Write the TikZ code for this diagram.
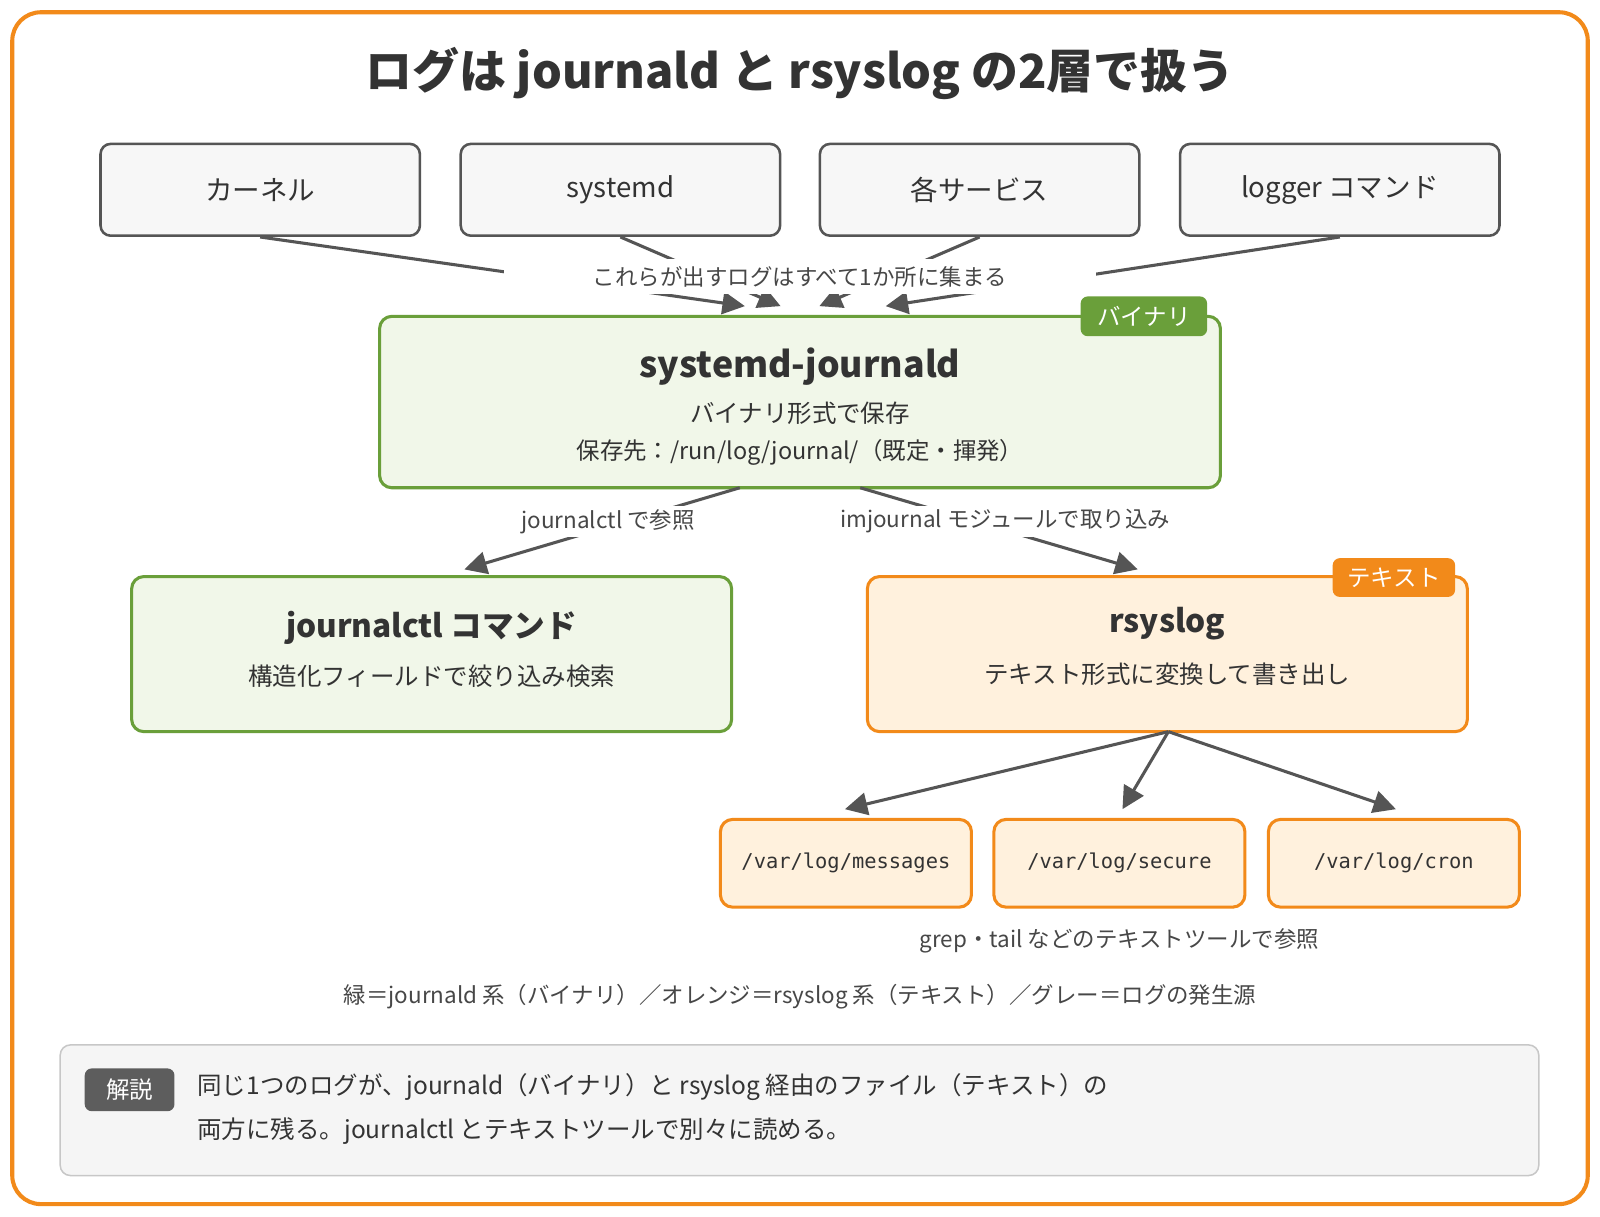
\documentclass[tikz,border=0pt]{standalone}
\usepackage{fontspec}
\setmainfont{Noto Sans CJK JP}
\newfontfamily\monof{DejaVu Sans Mono}
\usetikzlibrary{arrows.meta}
\definecolor{gb}{HTML}{6A9F3A}\definecolor{gf}{HTML}{F1F7E9}
\definecolor{ob}{HTML}{F28A1A}\definecolor{of}{HTML}{FFF1DD}
\definecolor{gr}{HTML}{555555}\definecolor{tx}{HTML}{333333}
\begin{document}
\begin{tikzpicture}[x=1pt,y=-1pt,
 src/.style={draw=gr,line width=2.5pt,fill=black!3,rounded corners=10pt,minimum width=313pt,minimum height=90pt,font=\fontsize{27}{30}\selectfont,text=tx},
 big/.style={line width=3pt,rounded corners=12pt},
 tag/.style={rounded corners=7pt,text=white,font=\fontsize{23}{26}\selectfont,inner sep=0pt},
 file/.style={draw=ob,fill=of,line width=3pt,rounded corners=12pt,minimum width=246pt,minimum height=86pt,font=\monof\fontsize{20}{22}\selectfont,text=tx},
 arr/.style={draw=gr,line width=3pt,-{Triangle[length=22pt,width=22pt]}},
 lab/.style={fill=white,text=tx!90,font=\fontsize{22}{25}\selectfont},
 sub/.style={text=tx,font=\fontsize{24}{28}\selectfont}]
\useasboundingbox (0,0) rectangle (1568,1192);
\draw[ob,line width=4pt,rounded corners=28pt,fill=white] (12,12) rectangle (1556,1180);
\node[font=\bfseries\fontsize{46}{50}\selectfont,text=tx] (title) at (784,72) {ログは journald と rsyslog の2層で扱う};
\node[src] (k) at (255,186) {カーネル};
\node[src] (s) at (608,186) {systemd};
\node[src] (v) at (960,186) {各サービス};
\node[src] (l) at (1313,186) {logger コマンド};
% journald
\draw[big,draw=gb,fill=gf] (372,310) rectangle (1196,478);
\node (jb) at (784,394) [minimum width=824pt,minimum height=168pt] {};
\node[tag,fill=gb,minimum width=124pt,minimum height=39pt] (jt) at (1121,310) {バイナリ};
\node[font=\bfseries\fontsize{35}{38}\selectfont,text=tx] (j1) at (784,359) {systemd-journald};
\node[sub] (j2) at (784,405) {バイナリ形式で保存};
\node[sub,font=\fontsize{23}{26}\selectfont] (j3) at (784,443) {保存先：/run/log/journal/（既定・揮発）};
\coordinate (a1) at (730,300);\coordinate (a2) at (765,300);\coordinate (a3) at (803,300);\coordinate (a4) at (868,300);
\draw[arr] (k.south) -- (a1);
\draw[arr] (s.south) -- (a2);
\draw[arr] (v.south) -- (a3);
\draw[arr] (l.south) -- (a4);
\node[lab,minimum width=580pt,minimum height=34pt] (cl) at (784,271) {これらが出すログはすべて1か所に集まる};
% lower boxes
\node[big,draw=gb,fill=gf,minimum width=588pt,minimum height=152pt] (jc) at (423,641) {};
\node[font=\bfseries\fontsize{31}{36}\selectfont,text=tx] at (423,615) {journalctl コマンド};
\node[sub] at (423,663) {構造化フィールドで絞り込み検索};
\node[big,draw=ob,fill=of,minimum width=588pt,minimum height=152pt] (rs) at (1144,641) {};
\node[tag,fill=ob,minimum width=120pt,minimum height=38pt] at (1366,566) {テキスト};
\node[font=\bfseries\fontsize{31}{36}\selectfont,text=tx] at (1144,611) {rsyslog};
\node[sub] at (1144,661) {テキスト形式に変換して書き出し};
\coordinate (jo1) at (725,478);\coordinate (jo2) at (843,478);
\coordinate (jc1) at (455,558);\coordinate (rs1) at (1115,558);
\draw[arr] (jo1) -- (jc1);
\draw[arr] (jo2) -- (rs1);
\node[lab,inner xsep=2pt] at (596,511) {journalctl で参照};
\node[lab,inner xsep=2pt] at (985,511) {imjournal モジュールで取り込み};
% files
\node[file] (f1) at (829,846) {/var/log/messages};
\node[file] (f2) at (1097,846) {/var/log/secure};
\node[file] (f3) at (1366,846) {/var/log/cron};
\coordinate (rb) at (1145,717);
\draw[arr] (rb) -- (828,793);
\draw[arr] (rb) -- (1100,793);
\draw[arr] (rb) -- (1368,793);
\node[lab] at (1097,922) {grep・tail などのテキストツールで参照};
\node[lab] at (784,977) {緑＝journald 系（バイナリ）／オレンジ＝rsyslog 系（テキスト）／グレー＝ログの発生源};
% note
\draw[draw=black!22,line width=1.5pt,fill=black!4,rounded corners=10pt] (59,1024) rectangle (1508,1152);
\node[tag,fill=gr!95,minimum width=88pt,minimum height=42pt] at (127,1068) {解説};
\node[anchor=west,text=tx,font=\fontsize{24}{28}\selectfont] at (190,1065) {同じ1つのログが、journald（バイナリ）と rsyslog 経由のファイル（テキスト）の};
\node[anchor=west,text=tx,font=\fontsize{24}{28}\selectfont] at (190,1108) {両方に残る。journalctl とテキストツールで別々に読める。};
\end{tikzpicture}
\end{document}
